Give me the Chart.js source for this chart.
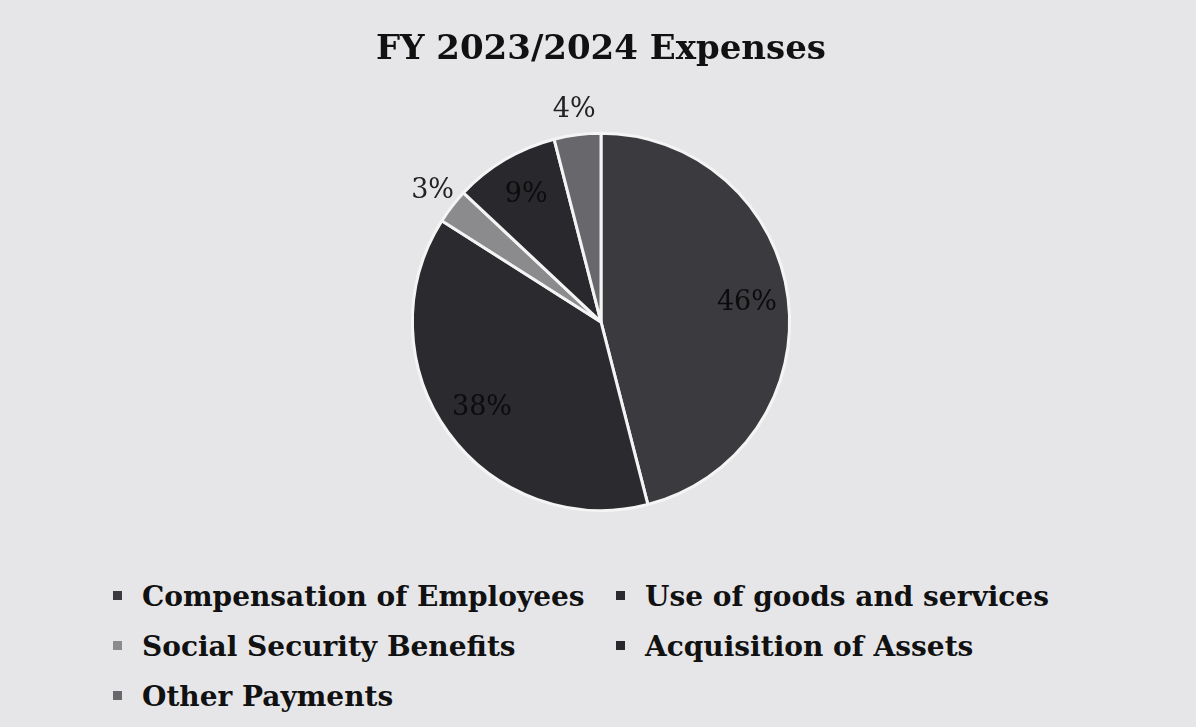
<!DOCTYPE html>
<html>
<head>
<meta charset="utf-8">
<script src="https://cdn.jsdelivr.net/npm/chart.js@4.4.0/dist/chart.umd.min.js"></script>
<style>
  html, body { margin: 0; padding: 0; }
  body { width: 1196px; height: 727px; background: #e6e6e9; overflow: hidden; position: relative; font-family: "DejaVu Serif", serif; }
  #wrap { position: absolute; left: 0; top: 0; width: 1196px; height: 560px; }
  #legend { position: absolute; left: 113px; top: 577px; width: 1080px; }
  .item { position: absolute; font-weight: bold; font-size: 28px; color: #111; white-space: nowrap; line-height: 40px; }
  .box { display: inline-block; width: 9px; height: 9px; margin-right: 20px; vertical-align: middle; position: relative; top: -3px; }
</style>
</head>
<body>
<div id="wrap"><canvas id="pie" width="1196" height="560"></canvas></div>
<div id="legend"></div>
<script>
var categories = ["Compensation of Employees", "Use of goods and services", "Social Security Benefits", "Acquisition of Assets", "Other Payments"];
var shares = [46, 38, 3, 9, 4];
var colors = ["#3a3a3f", "#2a2a2f", "#8b8b8e", "#29292d", "#68686c"];
var outside = [false, false, true, false, true];

// percentage labels, inside or just outside the slice
var pctLabels = {
    id: 'pctLabels',
    afterDatasetsDraw: function (chart) {
        var ctx = chart.ctx;
        var arcs = chart.getDatasetMeta(0).data;
        ctx.save();
        ctx.font = '27px "DejaVu Serif"';
        ctx.textAlign = 'center';
        ctx.textBaseline = 'middle';
        for (var i = 0; i < arcs.length; i++) {
            var a = arcs[i];
            var mid = (a.startAngle + a.endAngle) / 2;
            var r = outside[i] ? a.outerRadius * 1.13 : a.outerRadius * 0.78;
            ctx.fillStyle = outside[i] ? '#222' : '#0c0c0c';
            ctx.fillText(shares[i] + '%', a.x + Math.cos(mid) * r, a.y + Math.sin(mid) * r);
        }
        ctx.restore();
    }
};

var chart = new Chart(document.getElementById('pie').getContext('2d'), {
    type: 'pie',
    data: {
        labels: categories,
        datasets: [{
            data: shares,
            backgroundColor: colors,
            borderColor: '#f4f4f4',
            borderWidth: 3
        }]
    },
    options: {
        responsive: false,
        animation: false,
        layout: { padding: { left: 6, right: 0, top: 0, bottom: 48 } },
        plugins: {
            legend: { display: false },
            tooltip: { enabled: false },
            title: {
                display: true,
                text: 'FY 2023/2024 Expenses',
                color: '#111',
                font: { family: 'DejaVu Serif', size: 34, weight: 'bold' },
                padding: { top: 30, bottom: 61 }
            }
        }
    },
    plugins: [pctLabels]
});

// legend in two left-aligned columns
var legend = document.getElementById('legend');
for (var i = 0; i < categories.length; i++) {
    var d = document.createElement('div');
    d.className = 'item';
    d.style.left = (i % 2 ? 503 : 0) + 'px';
    d.style.top = (Math.floor(i / 2) * 50) + 'px';
    d.innerHTML = '<span class="box" style="background:' + colors[i] + '"></span>' + categories[i];
    legend.appendChild(d);
}
</script>
</body>
</html>
